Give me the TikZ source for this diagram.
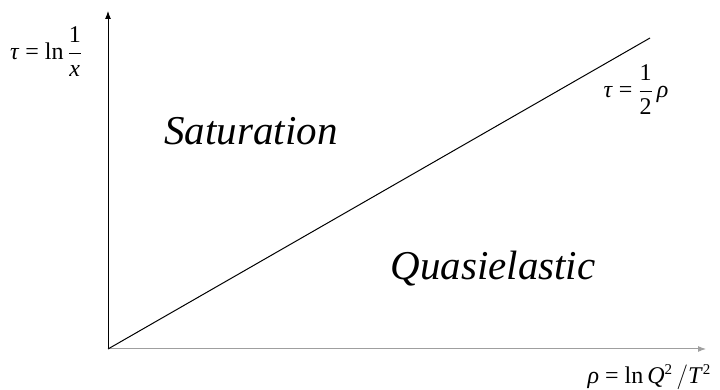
\documentclass[tikz,border=0pt]{standalone}
\usepackage{fontspec}
\setmainfont{Liberation Serif}
\usetikzlibrary{arrows.meta}

\begin{document}
\begin{tikzpicture}[
  x=1pt,y=1pt,
  axis/.style={-{Latex[length=8pt,width=6pt]},line width=1pt},
  lbl/.style={font=\fontsize{24}{29}\selectfont,inner sep=0pt},
  region/.style={font=\fontsize{41}{49}\selectfont\itshape,inner sep=0pt,anchor=base}
]
\useasboundingbox (0,0) rectangle (720,390);
\coordinate (orig) at (108,41);
\coordinate (ytip) at (108,379);
\coordinate (xtip) at (706,41);
\coordinate (lend) at (650,352);

\draw[axis,black] (orig) -- (ytip);
\draw[axis,gray!75] (orig) -- (xtip);
\draw[line width=1pt] (orig) -- (lend);

\node[lbl] (tau) at (46,338) {\textit{τ} = ln\,$\displaystyle\frac{\mbox{1}}{\mbox{\textit{x}}}$};
\node[lbl] (half) at (636,300) {\textit{τ} = $\displaystyle\frac{\mbox{1}}{\mbox{2}}$\,\textit{ρ}};
\node[lbl,anchor=east] (rho) at (711,13) {\textit{ρ} = ln\,\textit{Q}$^{\mbox{\fontsize{15}{17}\selectfont 2}}$\,$\big/$\textit{T}$^{\mbox{\fontsize{15}{17}\selectfont 2}}$};
\node[region] (sat) at (251,245) {Saturation};
\node[region] (quasi) at (493,110) {Quasielastic};
\end{tikzpicture}
\end{document}
